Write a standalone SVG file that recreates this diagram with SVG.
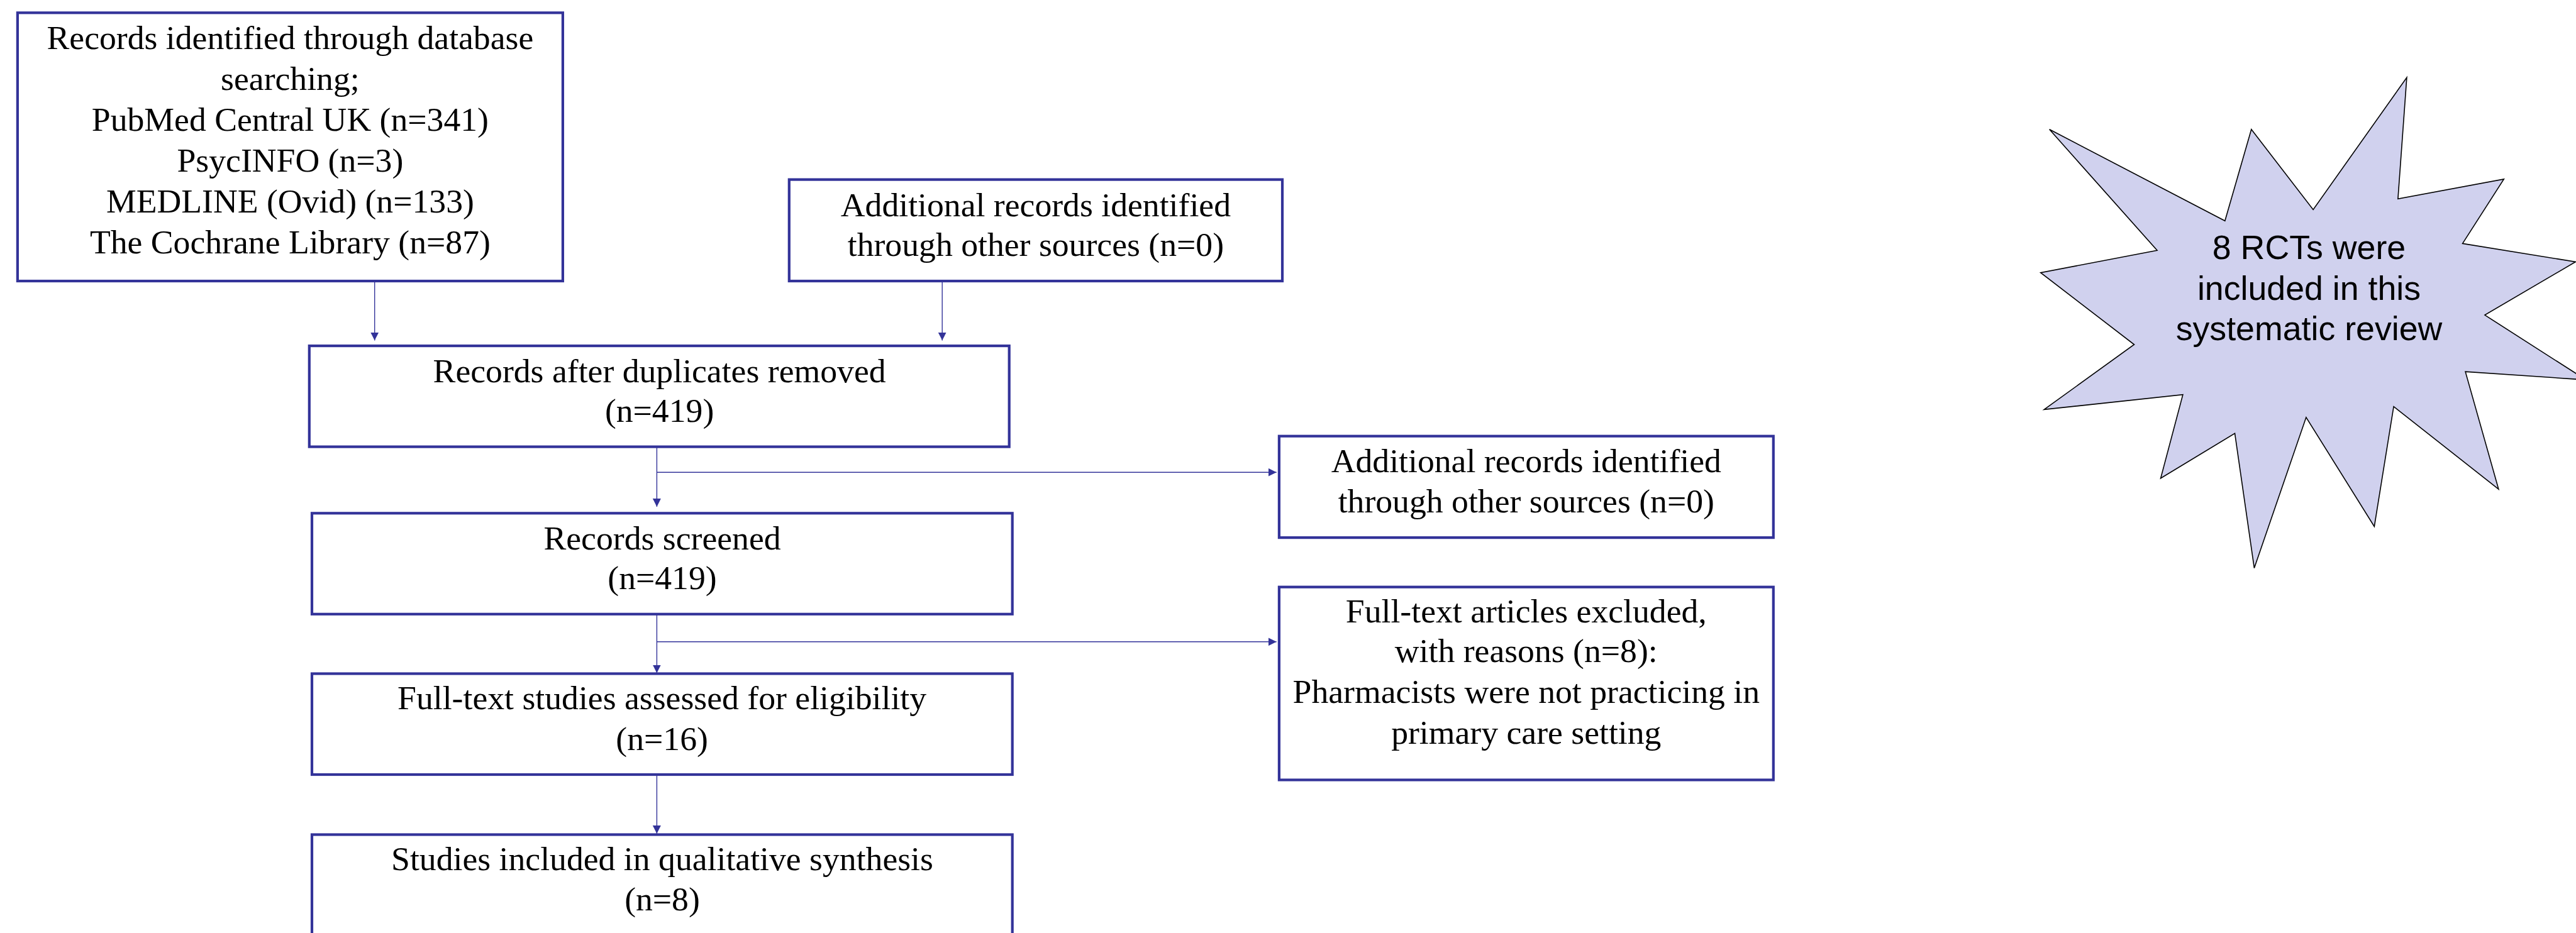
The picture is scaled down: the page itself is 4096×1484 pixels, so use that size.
<svg xmlns="http://www.w3.org/2000/svg" width="4096" height="1484" viewBox="0 0 4096 1484">
<style>
.box{fill:#ffffff;stroke:#333399;stroke-width:4.2}
.t{font-family:"Liberation Serif","Times New Roman",serif;font-size:53.7px;fill:#000;text-anchor:middle}
.s{font-family:"Liberation Sans",Arial,sans-serif;font-size:53.7px;fill:#000;text-anchor:middle}
.c{fill:none;stroke:#333399;stroke-width:1.4}
.star{fill:#d0d1ee;stroke:#000;stroke-width:1.6;stroke-linejoin:miter}
</style>
<defs>
<marker id="ah" markerUnits="userSpaceOnUse" markerWidth="13" markerHeight="13" refX="13" refY="6.5" orient="auto">
<path d="M0,0 L13,6.5 L0,13 z" fill="#333399"/>
</marker>
</defs>
<rect width="4096" height="1484" fill="#ffffff"/>
<g id="connectors">
<path class="c" d="M595.7,447 V541.6" marker-end="url(#ah)"/>
<path class="c" d="M1498.2,447 V541.6" marker-end="url(#ah)"/>
<path class="c" d="M1044.4,710.6 V806.1" marker-end="url(#ah)"/>
<path class="c" d="M1044.4,751.2 H2029.7" marker-end="url(#ah)"/>
<path class="c" d="M1044.4,976.8 V1070.5" marker-end="url(#ah)"/>
<path class="c" d="M1044.4,1020.8 H2029.7" marker-end="url(#ah)"/>
<path class="c" d="M1044.4,1232 V1326" marker-end="url(#ah)"/>
</g>
<g id="node-database">
<rect class="box" x="27.9" y="20.3" width="867" height="426.7"/>
<text class="t" x="461.4" y="77.7">Records identified through database</text>
<text class="t" x="461.4" y="142.8">searching;</text>
<text class="t" x="461.4" y="207.8">PubMed Central UK (n=341)</text>
<text class="t" x="461.4" y="272.9">PsycINFO (n=3)</text>
<text class="t" x="461.4" y="338">MEDLINE (Ovid) (n=133)</text>
<text class="t" x="461.4" y="403">The Cochrane Library (n=87)</text>
</g>
<g id="node-other-sources">
<rect class="box" x="1254.8" y="285.6" width="784.2" height="161.4"/>
<text class="t" x="1646.9" y="343.9">Additional records identified</text>
<text class="t" x="1646.9" y="407.3">through other sources (n=0)</text>
</g>
<g id="node-duplicates">
<rect class="box" x="491.8" y="550.1" width="1112.9" height="160.5"/>
<text class="t" x="1048.6" y="608.4">Records after duplicates removed</text>
<text class="t" x="1048.6" y="670.9">(n=419)</text>
</g>
<g id="node-screened">
<rect class="box" x="496" y="816.3" width="1113.7" height="160.5"/>
<text class="t" x="1053" y="873.7">Records screened</text>
<text class="t" x="1053" y="937.1">(n=419)</text>
</g>
<g id="node-additional-right">
<rect class="box" x="2033.9" y="693.7" width="785.9" height="161.4"/>
<text class="t" x="2426.8" y="751.2">Additional records identified</text>
<text class="t" x="2426.8" y="814.6">through other sources (n=0)</text>
</g>
<g id="node-excluded">
<rect class="box" x="2033.9" y="933.7" width="785.9" height="306.8"/>
<text class="t" x="2426.8" y="989.5">Full-text articles excluded,</text>
<text class="t" x="2426.8" y="1052.9">with reasons (n=8):</text>
<text class="t" x="2426.8" y="1117.9">Pharmacists were not practicing in</text>
<text class="t" x="2426.8" y="1183">primary care setting</text>
</g>
<g id="node-eligibility">
<rect class="box" x="496" y="1071.5" width="1113.7" height="160.5"/>
<text class="t" x="1052.6" y="1128">Full-text studies assessed for eligibility</text>
<text class="t" x="1052.6" y="1192.9">(n=16)</text>
</g>
<g id="node-included">
<rect class="box" x="496" y="1327.5" width="1113.7" height="200"/>
<text class="t" x="1053" y="1384.1">Studies included in qualitative synthesis</text>
<text class="t" x="1053" y="1447.5">(n=8)</text>
</g>
<g id="node-star">
<polygon class="star" points="3258.7,205.8 3537.8,351.3 3579.8,205.8 3678.1,333.4 3826.9,123.3 3812.9,316.2 3981.3,284.9 3915.6,387.3 4095.3,416.5 3951,501.1 4111.8,604.2 3920.1,591.1 3972.9,778.1 3806.1,646.6 3775.3,837.4 3666.9,663.8 3584.4,903.6 3553.5,689.2 3435.6,760.8 3470.9,627.7 3250.3,651.4 3393.5,548 3244.7,433.7 3430,398.2"/>
<text class="s" x="3671.5" y="412">8 RCTs were</text>
<text class="s" x="3671.5" y="476.5">included in this</text>
<text class="s" x="3671.5" y="541">systematic review</text>
</g>
</svg>
